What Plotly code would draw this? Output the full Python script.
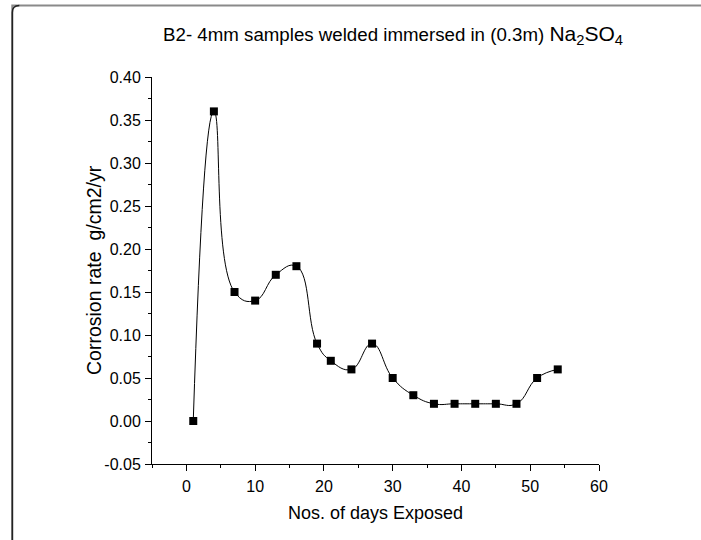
import plotly.graph_objects as go

days = [1, 4, 7, 10, 13, 16, 19, 21, 24, 27, 30, 33, 36, 39, 42, 45, 48, 51, 54]
rate = [0.00, 0.36, 0.15, 0.14, 0.17, 0.18, 0.09, 0.07, 0.06, 0.09, 0.05, 0.03,
        0.02, 0.02, 0.02, 0.02, 0.02, 0.05, 0.06]

x_tick_vals = [0, 10, 20, 30, 40, 50, 60]
x_tick_text = ["0", "10", "20", "30", "40", "50", "60"]
y_tick_vals = [-0.05, 0.00, 0.05, 0.10, 0.15, 0.20, 0.25, 0.30, 0.35, 0.40]
y_tick_text = ["-0.05", "0.00", "0.05", "0.10", "0.15", "0.20", "0.25", "0.30", "0.35", "0.40"]

title_main = "B2- 4mm samples welded immersed in (0.3m) "
title_chem = "Na<sub>2</sub>SO<sub>4</sub>"
x_title = "Nos. of days Exposed"
y_title = "Corrosion rate\u00a0 g/cm2/yr"

W, H = 701, 540
L, R, T, B = 152, 599, 77, 464
FONT = "Liberation Sans, Arial, sans-serif"

def fx(x):  # page pixel -> paper fraction (margins are zero)
    return x / W

def fy(y):
    return 1 - y / H

fig = go.Figure()
fig.add_trace(go.Scatter(
    x=days, y=rate, mode="lines+markers",
    line=dict(color="black", width=1, shape="spline", smoothing=1.3),
    marker=dict(symbol="square", size=8, color="black"),
    showlegend=False,
))

fig.update_layout(
    width=W, height=H,
    margin=dict(l=0, r=0, t=0, b=0, autoexpand=False),
    paper_bgcolor="white", plot_bgcolor="white",
    font=dict(family=FONT, color="black"),
    title=dict(
        text=title_main + "<span style='font-size:21px'>" + title_chem + "</span>",
        x=fx(393), xanchor="center", xref="paper",
        y=fy(34), yanchor="middle", yref="paper",
        font=dict(size=18.7, family=FONT, color="black"),
    ),
    xaxis=dict(
        domain=[fx(L), fx(R)],
        range=[-5, 60], tickvals=x_tick_vals, ticktext=x_tick_text,
        showgrid=False, zeroline=False,
        showline=True, linecolor="black", linewidth=1,
        ticks="outside", ticklen=6, tickcolor="black", tickwidth=1,
        minor=dict(ticks="outside", ticklen=3, tickcolor="black", dtick=5, tick0=0, showgrid=False),
        tickfont=dict(size=16, family=FONT),
        ticklabelstandoff=2,
        title=dict(text=x_title, font=dict(size=18, family=FONT), standoff=12),
        automargin=False,
    ),
    yaxis=dict(
        domain=[fy(B), fy(T)],
        range=[-0.05, 0.40], tickvals=y_tick_vals, ticktext=y_tick_text,
        showgrid=False, zeroline=False,
        showline=True, linecolor="black", linewidth=1,
        ticks="outside", ticklen=6, tickcolor="black", tickwidth=1,
        minor=dict(ticks="outside", ticklen=3, tickcolor="black", dtick=0.025, tick0=0, showgrid=False),
        tickfont=dict(size=16, family=FONT),
        ticklabelstandoff=1,
        automargin=False,
    ),
)

fig.add_annotation(
    text=y_title, textangle=-90, showarrow=False,
    xref="paper", yref="paper", x=fx(94), y=fy(270),
    xanchor="center", yanchor="middle",
    font=dict(size=19.5, family=FONT, color="black"),
)

# frame around the figure (clipped by the image on the right and bottom)
lx, ty, rad = 12.3, 5.5, 7
fig.add_shape(type="rect", xref="paper", yref="paper", layer="below",
              x0=fx(lx), y0=fy(ty), x1=fx(W + 20), y1=fy(H + 20),
              line=dict(color="#8a8a8a", width=2), fillcolor="rgba(0,0,0,0)")
fig.add_shape(type="path", xref="paper", yref="paper", layer="above",
              path=f"M {fx(lx)} {fy(H)} L {fx(lx)} {fy(ty + rad)} "
                   f"Q {fx(lx)} {fy(ty)} {fx(lx + rad)} {fy(ty)}",
              line=dict(color="#222222", width=1.5))

fig.write_html("out.html", config={"displayModeBar": False},
               post_script="document.body.style.margin='0';document.body.style.overflow='hidden';")
